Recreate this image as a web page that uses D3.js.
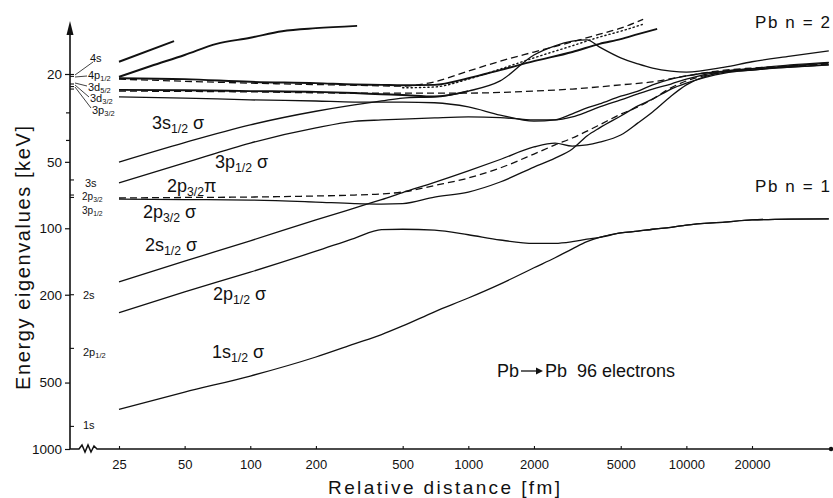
<!DOCTYPE html>
<html>
<head>
<meta charset="utf-8">
<script src="https://cdn.jsdelivr.net/npm/d3@7"></script>
<style>
  body { margin: 0; background: #fff; }
  svg { display: block; }
  text { font-family: "Liberation Sans", Arial, sans-serif; fill: #111; }
</style>
</head>
<body>
<svg id="chart" width="833" height="498"></svg>
<script>
// ---- data (distance in fm, energy in keV) ----
const xTicks = [25, 50, 100, 200, 500, 1000, 2000, 5000, 10000, 20000];
const yTicks = [20, 50, 100, 200, 500, 1000];
const yMinor = [30, 40];

// united-atom levels marked on the energy axis
const levelNames = ["4s", "4p1/2", "3d5/2", "3d3/2", "3p3/2", "3s", "2p3/2", "3p1/2", "2s", "2p1/2", "1s"];
const levelEnergy = [20.1, 20.5, 22.2, 22.8, 23.4, 60.4, 70.7, 72.5, 200, 350, 790];

// common distance grid for the long curves
const grid = [25, 50, 100, 200, 300, 400, 500, 700, 1000, 1400, 2000, 2500, 3000, 3500,
              4000, 5000, 6000, 7000, 8500, 10000, 15000, 20000, 30000, 45000];

const e1s12s  = [661, 552, 467, 383, 334, 303, 277, 239, 207, 179, 151, 136, 124, 115,
                 110, 105, 103, 101, 99, 96.7, 93.7, 91.7, 90.8, 90.6];
const e2p12s  = [241, 194, 158, 127, 111, 101.5, 101, 102, 107, 113, 117, 117, 115, 112,
                 110, 105, 103, 101, 99, 96.7, 93.7, 91.7, 90.8, 90.6];
const e2s12s  = [175, 141, 114, 91.7, 81, 74.2, 68.9, 62, 55, 48.8, 42.8, 41.1, 42.4, 41.9,
                 40.7, 37.8, 33.3, 29.7, 25.2, 22.4, 19.6, 19.2, 18.4, 17.8];
const e2p32pi = [72.9, 72.5, 72.2, 71.4, 70.7, 69.9, 68.5, 64, 59.2, 53.3, 46.1, 41.9, 39, 36.3,
                 34, 30.4, 28.2, 26, 23.1, 21.5, 19.6, 19.0, 18.5, 18.0];
const e2p32s  = [73.7, 74.1, 74.5, 76.1, 77.3, 77.7, 77.3, 72.2, 68.5, 61.7, 52.8, 48.1, 43.7, 38.2,
                 35.1, 31.0, 27.9, 26, 23.4, 22, 19.8, 19.2, 18.6, 18.2];
const e3p12s  = [62.3, 50.6, 41.1, 35.1, 32.8, 32.3, 32, 31.6, 31.3, 31.5, 32.3, 32.3, 31.3, 29.7,
                 28.2, 26.2, 24.6, 23.4, 22.2, 21.1, 19.4, 19.0, 18.6, 18.2];
const e3s12s  = [50.1, 40.9, 34, 29.5, 27.6, 26.5, 25.7, 25.4, 23.9, 21.5, 16.4, 14.9, 14.2, 14.0,
                 15.1, 16.9, 18.0, 18.8, 19.4, 19.6, 18.6, 17.6, 16.6, 15.7];
const e3p32   = [25.4, 25.7, 26.2, 26.5, 26.8, 26.8, 26.8, 27.0, 28.2, 30.7, 32.7, 32.3, 30.3, 28.5,
                 27.3, 25.2, 23.9, 22.4, 21.1, 20.4, 19.4, 18.9, 18.2, 17.7];

// shorter curves with their own distances
const r3d5 = [25, 50, 100, 200, 300, 400, 500, 700, 1000];
const e3d5 = [23.6, 23.7, 23.9, 24.1, 24.4, 24.7, 24.9, 25.3, 23.9];
const r3d3 = [25, 100, 300, 700, 1000, 2000, 3000, 5000, 7000, 10000, 15000, 20000, 30000, 45000];
const e3d3 = [23.9, 24.1, 24.4, 24.4, 24.4, 23.9, 23.4, 22.4, 21.7, 20.4, 19.2, 18.8, 18.4, 18.0];
const r4pS = [25, 50, 100, 200, 300, 400, 500, 700, 1000, 1400, 2000, 3000, 4000, 5000, 6000, 7345];
const e4pS = [20.9, 21.1, 21.7, 22.0, 22.3, 22.4, 22.5, 22.4, 20.9, 19.2, 17.5, 15.9, 14.6, 13.9, 13.2, 12.5];
const r4pD = [25, 100, 300, 500, 700, 1000, 1400, 2000, 3000, 4000, 5000, 6333];
const e4pD = [21.1, 22.0, 22.5, 22.7, 21.7, 19.4, 17.5, 15.9, 14.3, 13.2, 12.4, 11.3];
const rDot = [500, 700, 1000, 1400, 2000, 3000, 4000, 5000, 6333];
const eDot = [23.1, 22.9, 21.1, 19.0, 16.9, 14.9, 13.6, 12.8, 11.9];
const rTop = [25, 35, 50, 70, 100, 140, 200, 309];
const eTop = [20.6, 18.4, 16.4, 14.6, 13.7, 12.8, 12.4, 12.1];
const r4s  = [25, 44.7];
const e4s  = [17.6, 14.2];

// ---- chart ----
const svg = d3.select("#chart");
const x = d3.scaleLog().domain([25, 20000]).range([119, 752]);
const y = d3.scaleLog().domain([20, 1000]).range([74, 449]);
const x0 = 70, yBase = y(1000);

const zip = (r, e) => r.map((d, i) => [d, e[i]]);
const series = [
  { pts: zip(grid, e1s12s),  style: "solid" },
  { pts: zip(grid, e2p12s),  style: "solid" },
  { pts: zip(grid, e2s12s),  style: "solid" },
  { pts: zip(grid, e2p32pi), style: "dash" },
  { pts: zip(grid, e2p32s),  style: "solid" },
  { pts: zip(grid, e3p12s),  style: "solid" },
  { pts: zip(grid, e3s12s),  style: "solid" },
  { pts: zip(grid, e3p32),   style: "solid" },
  { pts: zip(r3d5, e3d5),    style: "bold" },
  { pts: zip(r3d3, e3d3),    style: "dash" },
  { pts: zip(r4pS, e4pS),    style: "bold" },
  { pts: zip(r4pD, e4pD),    style: "dash" },
  { pts: zip(rDot, eDot),    style: "dot" },
  { pts: zip(rTop, eTop),    style: "bold" },
  { pts: zip(r4s, e4s),      style: "bold" }
];

const line = d3.line()
  .x(d => x(d[0]))
  .y(d => y(d[1]))
  .curve(d3.curveMonotoneX);

svg.append("g")
  .selectAll("path")
  .data(series)
  .join("path")
  .attr("d", d => line(d.pts))
  .attr("fill", "none")
  .attr("stroke", "#111")
  .attr("stroke-width", d => d.style === "bold" ? 1.9 : d.style === "dot" ? 1.4 : 1.3)
  .attr("stroke-dasharray", d => d.style === "dash" ? "7,4" : d.style === "dot" ? "1.2,3" : null)
  .attr("stroke-linecap", d => d.style === "dot" ? "round" : "butt");

// y axis
const yAxis = svg.append("g")
  .attr("transform", `translate(${x0},0)`)
  .call(d3.axisLeft(y).tickValues(yTicks).tickFormat(d3.format("d")).tickSize(5).tickPadding(3));
yAxis.select(".domain").remove();
yAxis.selectAll(".tick line").attr("stroke", "#111").attr("stroke-width", 1.2);
yAxis.selectAll(".tick text").attr("font-size", 13.5).attr("font-family", "Liberation Sans, Arial, sans-serif").attr("fill", "#111");

svg.append("g").selectAll("line")
  .data(yMinor)
  .join("line")
  .attr("x1", x0 - 4).attr("x2", x0)
  .attr("y1", d => y(d)).attr("y2", d => y(d))
  .attr("stroke", "#111").attr("stroke-width", 1.2);

svg.append("line")
  .attr("x1", x0).attr("x2", x0)
  .attr("y1", yBase).attr("y2", 32)
  .attr("stroke", "#111").attr("stroke-width", 1.6);
svg.append("path")
  .attr("d", `M${x0},21 L${x0 - 3.5},35 L${x0 + 3.5},35 Z`)
  .attr("fill", "#111");

// level marks on the axis
svg.append("g").selectAll("line")
  .data(levelEnergy)
  .join("line")
  .attr("x1", x0).attr("x2", x0 + 4)
  .attr("y1", d => y(d)).attr("y2", d => y(d))
  .attr("stroke", "#111").attr("stroke-width", 1.1);

// level labels
const levelPos = [
  [90, 62], [88, 79], [88, 91], [90, 102], [92, 114],
  [85, 187], [82, 200], [82, 214], [83, 299], [83, 356], [83, 429]
];
const leaders = [
  [[93, 62], [75, 75]], [[87, 76], [75, 77]], [[87, 86], [75, 83]],
  [[89, 97], [75, 85]], [[91, 108], [75, 87]]
];
svg.append("g").selectAll("line")
  .data(leaders)
  .join("line")
  .attr("x1", d => d[0][0]).attr("y1", d => d[0][1])
  .attr("x2", d => d[1][0]).attr("y2", d => d[1][1])
  .attr("stroke", "#111").attr("stroke-width", 0.8);

function subText(g, px, py, str, size) {
  const m = str.match(/^(\d?[a-zπσ]+)(\d\/\d)?(.*)$/);
  const t = g.append("text").attr("x", px).attr("y", py).attr("font-size", size);
  t.append("tspan").text(m[1]);
  if (m[2]) {
    t.append("tspan").attr("font-size", size * 0.68).attr("dy", size * 0.22).text(m[2]);
    if (m[3]) t.append("tspan").attr("dy", -size * 0.22).text(m[3]);
  }
  return t;
}
const lev = svg.append("g");
levelNames.forEach((n, i) => subText(lev, levelPos[i][0], levelPos[i][1], n, i === 6 || i === 7 ? 10 : 11));

// x axis
const xAxis = svg.append("g")
  .attr("transform", `translate(0,${yBase})`)
  .call(d3.axisBottom(x).tickValues(xTicks).tickFormat(d3.format("d")).tickSize(-3).tickPadding(11));
xAxis.select(".domain").remove();
xAxis.selectAll(".tick line").attr("stroke", "#111").attr("stroke-width", 1.1);
xAxis.selectAll(".tick text").attr("font-size", 13).attr("font-family", "Liberation Sans, Arial, sans-serif").attr("fill", "#111");

svg.append("path")
  .attr("d", `M${x0},${yBase} L79,${yBase} L82,${yBase - 4} L85,${yBase + 3} L88,${yBase - 4} L91,${yBase + 3} L94,${yBase - 3} L97,${yBase} L832,${yBase}`)
  .attr("fill", "none").attr("stroke", "#111").attr("stroke-width", 1.5);
svg.append("circle").attr("cx", 831).attr("cy", yBase).attr("r", 2.2).attr("fill", "#111");

// axis titles
svg.append("text")
  .attr("x", 444).attr("y", 494)
  .attr("text-anchor", "middle")
  .attr("font-size", 19)
  .attr("textLength", 232).attr("lengthAdjust", "spacing")
  .text("Relative distance [fm]");
svg.append("text")
  .attr("transform", "translate(30,258) rotate(-90)")
  .attr("text-anchor", "middle")
  .attr("font-size", 20)
  .attr("textLength", 264).attr("lengthAdjust", "spacing")
  .text("Energy eigenvalues [keV]");

// curve labels
const curveNames = ["3s1/2 σ", "3p1/2 σ", "2p3/2π", "2p3/2 σ", "2s1/2 σ", "2p1/2 σ", "1s1/2 σ"];
const curveLabelPos = [[152, 129], [215, 168], [167, 192], [143, 218], [145, 251], [213, 300], [212, 358]];
const cl = svg.append("g");
curveNames.forEach((n, i) => subText(cl, curveLabelPos[i][0], curveLabelPos[i][1], n, 18));

// annotations
svg.append("text").attr("x", 755).attr("y", 28).attr("font-size", 17)
  .attr("textLength", 75).attr("lengthAdjust", "spacing").text("Pb  n = 2");
svg.append("text").attr("x", 755).attr("y", 192).attr("font-size", 17)
  .attr("textLength", 75).attr("lengthAdjust", "spacing").text("Pb  n = 1");
svg.append("text").attr("x", 497).attr("y", 377).attr("font-size", 18).text("Pb");
svg.append("line").attr("x1", 521).attr("x2", 539).attr("y1", 371).attr("y2", 371)
  .attr("stroke", "#111").attr("stroke-width", 1.3);
svg.append("path").attr("d", "M543,371 L536,367.5 L536,374.5 Z").attr("fill", "#111");
svg.append("text").attr("x", 545).attr("y", 377).attr("font-size", 18).text("Pb");
svg.append("text").attr("x", 577).attr("y", 377).attr("font-size", 18).text("96 electrons");
</script>
</body>
</html>
